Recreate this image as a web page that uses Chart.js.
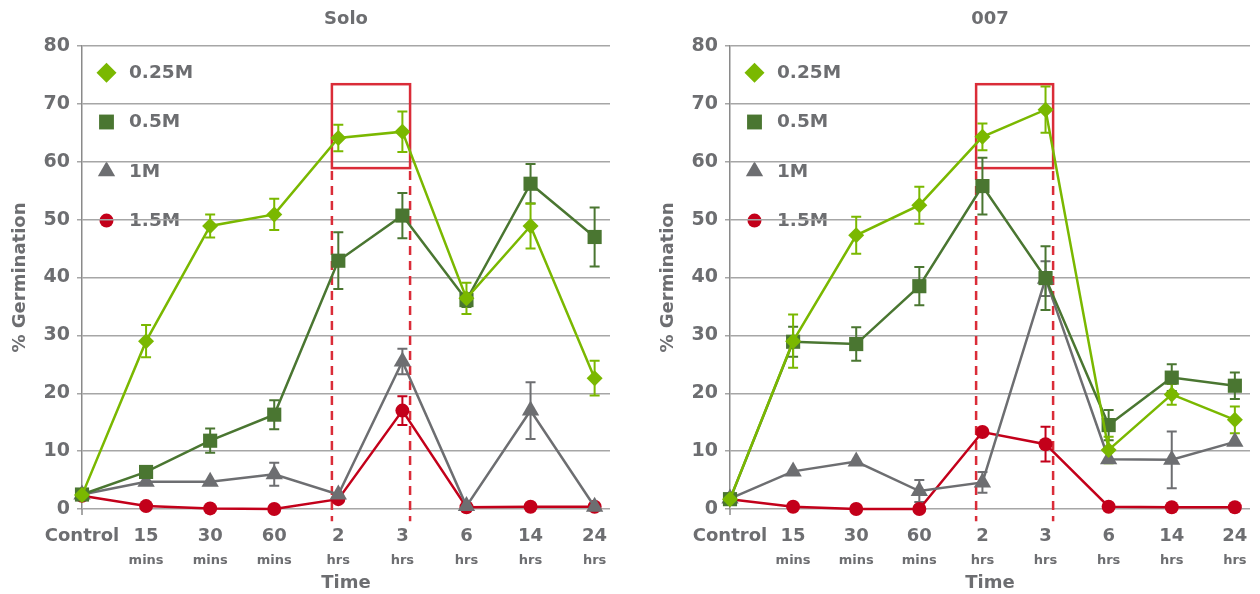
<!DOCTYPE html>
<html><head><meta charset="utf-8">
<script src="https://cdn.jsdelivr.net/npm/chart.js@4.4.0/dist/chart.umd.min.js"></script>
<style>
html,body{margin:0;padding:0;background:#fff;}
#wrap{position:relative;width:1260px;height:594px;overflow:hidden;}
.box{position:absolute;top:0;width:630px;height:594px;}
#b1{left:0}#b2{left:630px}
</style></head><body>
<div id="wrap"><div class="box" id="b1"><canvas id="c1" width="630" height="594"></canvas></div><div class="box" id="b2"><canvas id="c2" width="630" height="594"></canvas></div></div>
<script>
// ---------- data ----------
const categories = ['Control','15','30','60','2','3','6','14','24'];
const units = ['','mins','mins','mins','hrs','hrs','hrs','hrs','hrs'];
const seriesNames = ['0.25M','0.5M','1M','1.5M'];
const chartTitles = ['Solo','007'];

const solo025    = [2.4, 29.0, 48.9, 50.9, 64.1, 65.2, 36.4, 48.9, 22.6];
const solo025Err = [0, 2.8, 2.0, 2.7, 2.3, 3.5, 2.7, 3.9, 3.0];
const solo05     = [2.5, 6.4, 11.8, 16.3, 42.9, 50.7, 36.1, 56.2, 47.0];
const solo05Err  = [0, 0, 2.1, 2.5, 4.9, 3.9, 1.2, 3.4, 5.1];
const solo1      = [2.5, 4.7, 4.7, 6.0, 2.5, 25.5, 0.5, 17.0, 0.4];
const solo1Err   = [0, 0, 0, 2.0, 0, 2.2, 0, 4.9, 0];
const solo15     = [2.3, 0.5, 0.1, 0.0, 1.7, 17.0, 0.3, 0.4, 0.4];
const solo15Err  = [0, 0, 0, 0, 0, 2.5, 0, 0, 0];

const b007025    = [1.7, 29.0, 47.3, 52.5, 64.3, 69.0, 10.2, 19.8, 15.4];
const b007025Err = [0, 4.6, 3.2, 3.2, 2.3, 4.0, 2.3, 1.8, 2.3];
const b00705     = [1.7, 28.9, 28.5, 38.5, 55.8, 39.9, 14.5, 22.7, 21.3];
const b00705Err  = [0, 2.6, 2.9, 3.3, 4.9, 5.5, 2.6, 2.3, 2.3];
const b0071      = [1.8, 6.5, 8.2, 3.1, 4.6, 39.8, 8.6, 8.5, 11.6];
const b0071Err   = [0, 0, 0, 1.9, 1.8, 3.0, 0, 4.9, 0];
const b00715     = [1.7, 0.4, 0.0, 0.0, 13.3, 11.2, 0.4, 0.3, 0.3];
const b00715Err  = [0, 0, 0, 0, 0, 3.0, 0, 0, 0];

// highlight box (in axis units): categories 2 hrs..3 hrs
const highlight = {x0: 3.9, x1: 5.12, yTop: 73.4, yBottom: 58.9, dashEnd: -2.1};

// ---------- styles ----------
const colors = ['#7ab800', '#4a7631', '#6d6e71', '#c3001a'];
const shapes = ['rectRot', 'rect', 'triangle', 'circle'];
const radii = [8, 10, 10, 7];
const legendRadii = [10, 10.5, 10, 7];
const textGray = '#6d6e71';
const FONT = "'DejaVu Sans', 'Liberation Sans', sans-serif";
const XMAX = 8.24;

function shapePath(ctx, style, r, x, y) {
  ctx.beginPath();
  if (style === 'circle') {
    ctx.arc(x, y, r, 0, Math.PI * 2);
  } else if (style === 'rect') {
    const s = r * Math.SQRT1_2;
    ctx.rect(x - s, y - s, 2 * s, 2 * s);
  } else if (style === 'rectRot') {
    ctx.moveTo(x, y - r); ctx.lineTo(x + r, y); ctx.lineTo(x, y + r); ctx.lineTo(x - r, y);
  } else if (style === 'triangle') {
    ctx.moveTo(x, y - r);
    ctx.lineTo(x + r * 0.866, y + r * 0.5);
    ctx.lineTo(x - r * 0.866, y + r * 0.5);
  }
  ctx.closePath();
}

const extras = {
  id: 'extras',
  beforeDraw(chart, args, opts) {
    // legend inside the plot, drawn under grid lines
    const ctx = chart.ctx, ca = chart.chartArea;
    ctx.save();
    chart.data.datasets.forEach((ds, i) => {
      const cy = ca.top + 26.7 + 49.3 * i;
      const cx = ca.left + 24.5;
      ctx.fillStyle = ds.borderColor;
      shapePath(ctx, ds.pointStyle, legendRadii[i], cx, cy);
      ctx.fill();
      ctx.fillStyle = textGray;
      ctx.font = "bold 18.5px " + FONT;
      ctx.textBaseline = 'middle';
      ctx.textAlign = 'left';
      ctx.fillText(ds.label, ca.left + 47, cy + 0.5);
    });
    ctx.restore();
  },
  beforeDatasetsDraw(chart, args, opts) {
    const ctx = chart.ctx, xs = chart.scales.x, ys = chart.scales.y, ca = chart.chartArea;
    ctx.save();
    // small extension of the value axis below the zero line
    ctx.strokeStyle = '#8a8a8a';
    ctx.lineWidth = 1.5;
    ctx.beginPath();
    ctx.moveTo(xs.getPixelForValue(0), ca.bottom);
    ctx.lineTo(xs.getPixelForValue(0), ca.bottom + 6);
    ctx.stroke();
    // highlight box + dashed drop lines
    const h = opts.box;
    const xl = xs.getPixelForValue(h.x0), xr = xs.getPixelForValue(h.x1);
    const yt = ys.getPixelForValue(h.yTop), yb = ys.getPixelForValue(h.yBottom);
    const ye = ys.getPixelForValue(h.dashEnd);
    ctx.strokeStyle = '#da2c38';
    ctx.lineWidth = 2.5;
    ctx.setLineDash([]);
    ctx.strokeRect(xl, yt, xr - xl, yb - yt);
    ctx.setLineDash([9, 6]);
    ctx.beginPath();
    ctx.moveTo(xl, yb + 3); ctx.lineTo(xl, ye);
    ctx.moveTo(xr, yb + 3); ctx.lineTo(xr, ye);
    ctx.stroke();
    ctx.setLineDash([]);
    // error bars
    const errs = opts.errors;
    for (let i = chart.data.datasets.length - 1; i >= 0; i--) {
      const ds = chart.data.datasets[i];
      ctx.strokeStyle = ds.borderColor;
      ctx.lineWidth = 2;
      ds.data.forEach((p, j) => {
        const e = errs[i][j];
        if (!e) return;
        const x = xs.getPixelForValue(p.x);
        const y1 = ys.getPixelForValue(p.y + e), y2 = ys.getPixelForValue(p.y - e);
        ctx.beginPath();
        ctx.moveTo(x, y1); ctx.lineTo(x, y2);
        ctx.moveTo(x - 5, y1); ctx.lineTo(x + 5, y1);
        ctx.moveTo(x - 5, y2); ctx.lineTo(x + 5, y2);
        ctx.stroke();
      });
    }
    ctx.restore();
  }
};

function makeChart(id, title, series, errors, padLeft, padRight) {
  const datasets = series.map((vals, i) => ({
    label: seriesNames[i],
    data: vals.map((v, j) => ({x: j, y: v})),
    borderColor: colors[i],
    backgroundColor: colors[i],
    pointBackgroundColor: colors[i],
    pointBorderColor: colors[i],
    pointBorderWidth: 0,
    pointStyle: shapes[i],
    pointRadius: radii[i],
    pointHoverRadius: radii[i],
    borderWidth: 2.5,
    tension: 0,
    clip: false
  }));
  const xTickCommon = {stepSize: 1, includeBounds: false, autoSkip: false, maxRotation: 0, minRotation: 0, color: textGray};
  return new Chart(document.getElementById(id), {
    type: 'line',
    data: {datasets},
    plugins: [extras],
    options: {
      responsive: false,
      animation: false,
      devicePixelRatio: 1,
      layout: {padding: {left: padLeft, right: padRight, top: 0, bottom: 0}},
      plugins: {
        legend: {display: false},
        title: {display: false},
        tooltip: {enabled: false},
        extras: {errors, box: highlight}
      },
      scales: {
        xTop: {
          type: 'linear', position: 'top', min: 0, max: XMAX,
          grid: {display: false, drawTicks: false}, border: {display: false},
          ticks: {display: false},
          title: {display: true, text: title, color: textGray,
                  font: {family: FONT, size: 18, weight: 'bold'}, padding: {top: 9, bottom: 15.4}}
        },
        x: {
          type: 'linear', position: 'bottom', min: 0, max: XMAX, weight: 0,
          ticks: Object.assign({}, xTickCommon, {
            padding: 3,
            font: {family: FONT, size: 18, weight: 'bold'},
            callback: v => categories[v] !== undefined ? categories[v] : ''
          }),
          grid: {display: true, drawOnChartArea: false, drawTicks: true, tickLength: 13.2,
                 color: 'rgba(0,0,0,0)'},
          border: {display: false}
        },
        xUnit: {
          type: 'linear', position: 'bottom', min: 0, max: XMAX, weight: 1,
          ticks: Object.assign({}, xTickCommon, {
            padding: 3.4,
            font: {family: FONT, size: 13, weight: 'bold'},
            callback: v => units[v] !== undefined ? units[v] : ''
          }),
          grid: {display: false, drawTicks: false}, border: {display: false},
          title: {display: true, text: 'Time', color: textGray,
                  font: {family: FONT, size: 18, weight: 'bold'}, padding: {top: 0.2, bottom: 0}}
        },
        y: {
          type: 'linear', position: 'left', min: 0, max: 80,
          ticks: {stepSize: 10, padding: 7, color: textGray, font: {family: FONT, size: 19, weight: 'bold'}},
          grid: {color: '#a6a6a6', lineWidth: 1.5, tickLength: 5, drawTicks: true},
          border: {display: true, color: '#8a8a8a', width: 1.5},
          title: {display: true, text: '% Germination', color: textGray,
                  font: {family: FONT, size: 18, weight: 'bold'}, padding: {top: 9.7, bottom: 0}},
          afterFit: s => { s.width = 82; }
        }
      }
    }
  });
}

makeChart('c1', chartTitles[0],
  [solo025, solo05, solo1, solo15],
  [solo025Err, solo05Err, solo1Err, solo15Err], 0, 20);
makeChart('c2', chartTitles[1],
  [b007025, b00705, b0071, b00715],
  [b007025Err, b00705Err, b0071Err, b00715Err], 18, 2);
</script>
</body></html>
